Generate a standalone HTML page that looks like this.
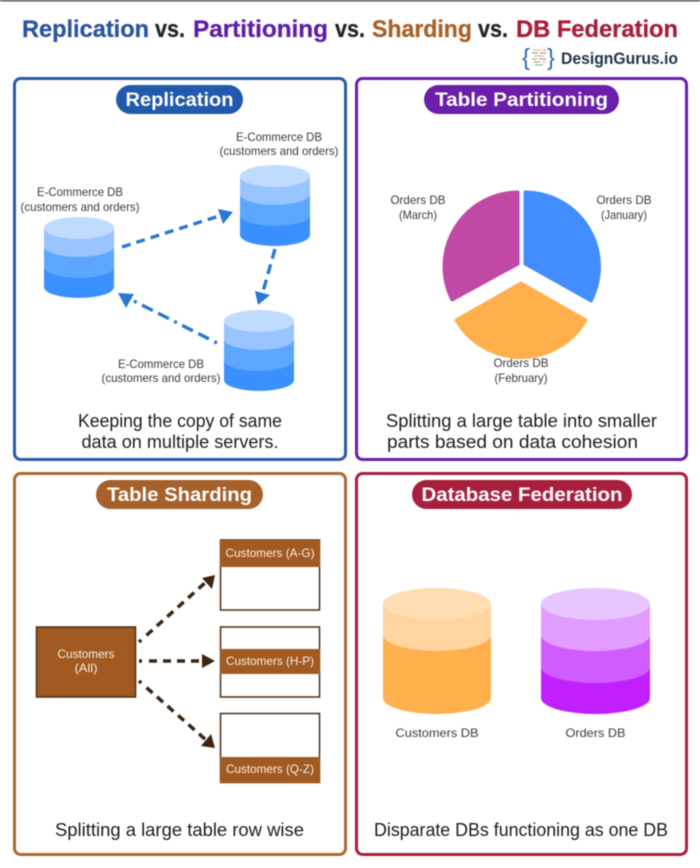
<!DOCTYPE html>
<html>
<head>
<meta charset="utf-8">
<style>
html,body{margin:0;padding:0;background:#fff;width:700px;height:868px;overflow:hidden}
svg{display:block;filter:blur(.45px)}
text{font-family:"Liberation Sans",sans-serif}
.t{font-size:24px;font-weight:bold;stroke-width:.3px}
.p{font-size:19.5px;font-weight:bold;fill:#fff;text-anchor:middle}
.l{font-size:12px;fill:#3a3a3a;text-anchor:middle}
.b{font-size:18px;fill:#1c1c1c;text-anchor:middle}
.c{font-size:12px;fill:#fbeee0;text-anchor:middle}
</style>
</head>
<body>
<svg width="700" height="868" viewBox="0 0 700 868" xmlns="http://www.w3.org/2000/svg">
<defs>
<g id="cyl">
<path d="M0 11V70A35 11 0 0 0 70 70V11Z" fill="#3a90ff"/>
<path d="M0 11V50A35 11 0 0 0 70 50V11Z" fill="#5da6ff"/>
<path d="M0 11V29A35 11 0 0 0 70 29V11Z" fill="#98c4ff"/>
<ellipse cx="35" cy="11" rx="35" ry="11" fill="#bfdcff"/>
</g>
</defs>
<rect width="700" height="868" fill="#fff"/>
<rect width="700" height="1.5" fill="#555"/>

<text class="t" x="22" y="37" fill="#2b55a0" stroke="#2b55a0" textLength="127" lengthAdjust="spacingAndGlyphs">Replication</text>
<text class="t" x="155" y="37" fill="#262626" stroke="#262626" textLength="30" lengthAdjust="spacingAndGlyphs">vs.</text>
<text class="t" x="193" y="37" fill="#5f1fa8" stroke="#5f1fa8" textLength="135" lengthAdjust="spacingAndGlyphs">Partitioning</text>
<text class="t" x="335" y="37" fill="#262626" stroke="#262626" textLength="30" lengthAdjust="spacingAndGlyphs">vs.</text>
<text class="t" x="372" y="37" fill="#a8622a" stroke="#a8622a" textLength="100" lengthAdjust="spacingAndGlyphs">Sharding</text>
<text class="t" x="478" y="37" fill="#262626" stroke="#262626" textLength="30" lengthAdjust="spacingAndGlyphs">vs.</text>
<text class="t" x="516" y="37" fill="#a81f3a" stroke="#a81f3a" textLength="162" lengthAdjust="spacingAndGlyphs">DB Federation</text>

<text x="522" y="65" font-size="23" fill="#2b6cb0" textLength="8" lengthAdjust="spacingAndGlyphs">{</text>
<text x="547" y="65" font-size="23" fill="#2b6cb0" textLength="8" lengthAdjust="spacingAndGlyphs">}</text>
<g stroke-width="1.2" opacity=".75">
<path d="M533 50h8" stroke="#e8a33d"/><path d="M543 50h3" stroke="#56a86b"/>
<path d="M532 53h6" stroke="#3f8fd6"/><path d="M540 53h6" stroke="#d9534f"/>
<path d="M534 56h10" stroke="#e8a33d"/>
<path d="M532 59h5" stroke="#56a86b"/><path d="M539 59h7" stroke="#3f8fd6"/>
<path d="M534 62h6" stroke="#d9534f"/><path d="M542 62h4" stroke="#e8a33d"/>
<path d="M535 65h8" stroke="#56a86b"/>
</g>
<text x="561" y="64" font-size="16.5" font-weight="bold" fill="#1f3347" textLength="117" lengthAdjust="spacingAndGlyphs">DesignGurus.io</text>

<rect x="14.5" y="78.5" width="331" height="381" rx="6" fill="#fff" stroke="#2b5ba8" stroke-width="3"/>
<rect x="356.5" y="78.5" width="330" height="381" rx="6" fill="#fff" stroke="#6a1eaa" stroke-width="3"/>
<rect x="14.5" y="473.5" width="331" height="381" rx="6" fill="#fff" stroke="#ad6a2c" stroke-width="3"/>
<rect x="356.5" y="473.5" width="330" height="381" rx="6" fill="#fff" stroke="#a81f3d" stroke-width="3"/>

<rect x="116" y="85" width="127" height="29" rx="14.5" fill="#2359ac"/>
<text class="p" x="179.5" y="106" textLength="108" lengthAdjust="spacingAndGlyphs">Replication</text>
<rect x="424" y="85" width="195" height="29" rx="14.5" fill="#6a1eaa"/>
<text class="p" x="521.5" y="106" textLength="173" lengthAdjust="spacingAndGlyphs">Table Partitioning</text>
<rect x="96" y="480" width="167" height="29" rx="14.5" fill="#a6602a"/>
<text class="p" x="179.5" y="501" textLength="145" lengthAdjust="spacingAndGlyphs">Table Sharding</text>
<rect x="412" y="480" width="220" height="29" rx="14.5" fill="#a81f3d"/>
<text class="p" x="522" y="501" textLength="201" lengthAdjust="spacingAndGlyphs">Database Federation</text>

<!-- Replication -->
<use href="#cyl" x="44" y="217"/>
<use href="#cyl" x="240" y="165"/>
<use href="#cyl" x="224" y="310"/>
<text class="l" x="80" y="196" textLength="86" lengthAdjust="spacingAndGlyphs">E-Commerce DB</text>
<text class="l" x="80" y="211" textLength="119" lengthAdjust="spacingAndGlyphs">(customers and orders)</text>
<text class="l" x="279" y="141" textLength="86" lengthAdjust="spacingAndGlyphs">E-Commerce DB</text>
<text class="l" x="279" y="155" textLength="119" lengthAdjust="spacingAndGlyphs">(customers and orders)</text>
<text class="l" x="161" y="368" textLength="86" lengthAdjust="spacingAndGlyphs">E-Commerce DB</text>
<text class="l" x="161" y="382" textLength="119" lengthAdjust="spacingAndGlyphs">(customers and orders)</text>
<g stroke="#2a78d0" stroke-width="3.4" fill="none">
<path d="M122 247L222 215" stroke-dasharray="9 6"/>
<path d="M275 249L262 295" stroke-dasharray="10 6"/>
<path d="M217 343L130 299" stroke-dasharray="3 6 12 6 12 6"/>
</g>
<g fill="#2a78d0">
<path d="M233 212L218 209L223 224Z"/>
<path d="M258 305L255 291L270 295Z"/>
<path d="M118 293L134 294L126 308Z"/>
</g>

<!-- Pie -->
<g stroke-width="3" stroke-linejoin="round">
<path d="M525 192A74.5 74.5 0 0 1 591 301L525 264Z" fill="#428dff" stroke="#428dff"/>
<path d="M518 192A74.5 74.5 0 0 0 452 300L518 264Z" fill="#c248a5" stroke="#c248a5"/>
<path d="M521 283L586 320A75 75 0 0 1 456 320Z" fill="#ffb04c" stroke="#ffb04c"/>
</g>
<text class="l" x="418" y="204" textLength="55" lengthAdjust="spacingAndGlyphs">Orders DB</text>
<text class="l" x="418" y="219" textLength="38" lengthAdjust="spacingAndGlyphs">(March)</text>
<text class="l" x="624" y="204" textLength="55" lengthAdjust="spacingAndGlyphs">Orders DB</text>
<text class="l" x="624" y="219" textLength="46" lengthAdjust="spacingAndGlyphs">(January)</text>
<text class="l" x="521" y="367" textLength="55" lengthAdjust="spacingAndGlyphs">Orders DB</text>
<text class="l" x="521" y="382" textLength="53" lengthAdjust="spacingAndGlyphs">(February)</text>

<text class="b" x="180" y="427" textLength="204" lengthAdjust="spacingAndGlyphs">Keeping the copy of same</text>
<text class="b" x="180" y="448" textLength="197" lengthAdjust="spacingAndGlyphs">data on multiple servers.</text>
<text class="b" x="521.5" y="427" textLength="271" lengthAdjust="spacingAndGlyphs">Splitting a large table into smaller</text>
<text class="b" x="512.5" y="448" textLength="251" lengthAdjust="spacingAndGlyphs">parts based on data cohesion</text>

<!-- Sharding -->
<rect x="36.5" y="627" width="99" height="70" fill="#a05a22" stroke="#4a2e14" stroke-width="1.5"/>
<text class="c" x="86" y="658" textLength="57" lengthAdjust="spacingAndGlyphs">Customers</text>
<text class="c" x="86" y="672" textLength="23" lengthAdjust="spacingAndGlyphs">(All)</text>

<rect x="220.5" y="540" width="99" height="70" fill="#fff" stroke="#4a2e14" stroke-width="1.5"/>
<rect x="220" y="540" width="100" height="27" fill="#a05a22"/>
<text class="c" x="270" y="557" textLength="89" lengthAdjust="spacingAndGlyphs">Customers (A-G)</text>
<rect x="220.5" y="627" width="99" height="70" fill="#fff" stroke="#4a2e14" stroke-width="1.5"/>
<rect x="220" y="649" width="100" height="25" fill="#a05a22"/>
<text class="c" x="270" y="665" textLength="88" lengthAdjust="spacingAndGlyphs">Customers (H-P)</text>
<rect x="220.5" y="713.5" width="99" height="69" fill="#fff" stroke="#4a2e14" stroke-width="1.5"/>
<rect x="220" y="757" width="100" height="26" fill="#a05a22"/>
<text class="c" x="270" y="773" textLength="88" lengthAdjust="spacingAndGlyphs">Customers (Q-Z)</text>

<g stroke="#3e2412" stroke-width="3.5" fill="none" stroke-dasharray="3 7 8 6 8 6 8 6 8 6 8 6 8 6">
<path d="M139 642L206 582"/>
<path d="M139 661L205 661"/>
<path d="M139 681L206 740"/>
</g>
<g fill="#3e2412">
<path d="M215 575L212 589L202 578Z"/>
<path d="M215 661L202 654V668Z"/>
<path d="M215 748L201 746L211 734Z"/>
</g>

<text class="b" x="179.5" y="836" textLength="249" lengthAdjust="spacingAndGlyphs">Splitting a large table row wise</text>
<text class="b" x="521" y="836" textLength="294" lengthAdjust="spacingAndGlyphs">Disparate DBs functioning as one DB</text>

<!-- Federation -->
<path d="M383 604V698A54 16 0 0 0 491 698V604Z" fill="#ffb04c"/>
<path d="M383 604V635A54 16 0 0 0 491 635V604Z" fill="#ffd49e"/>
<ellipse cx="437" cy="604" rx="54" ry="16" fill="#ffdcb2"/>
<text class="l" x="437" y="737" textLength="83" lengthAdjust="spacingAndGlyphs">Customers DB</text>

<path d="M541 604V698A54.5 16 0 0 0 650 698V604Z" fill="#c21fff"/>
<path d="M541 604V667A54.5 16 0 0 0 650 667V604Z" fill="#d05cff"/>
<path d="M541 604V635A54.5 16 0 0 0 650 635V604Z" fill="#e29cff"/>
<ellipse cx="595.5" cy="604" rx="54.5" ry="16" fill="#e8c5ff"/>
<text class="l" x="595.5" y="737" textLength="60" lengthAdjust="spacingAndGlyphs">Orders DB</text>
</svg>
</body>
</html>
